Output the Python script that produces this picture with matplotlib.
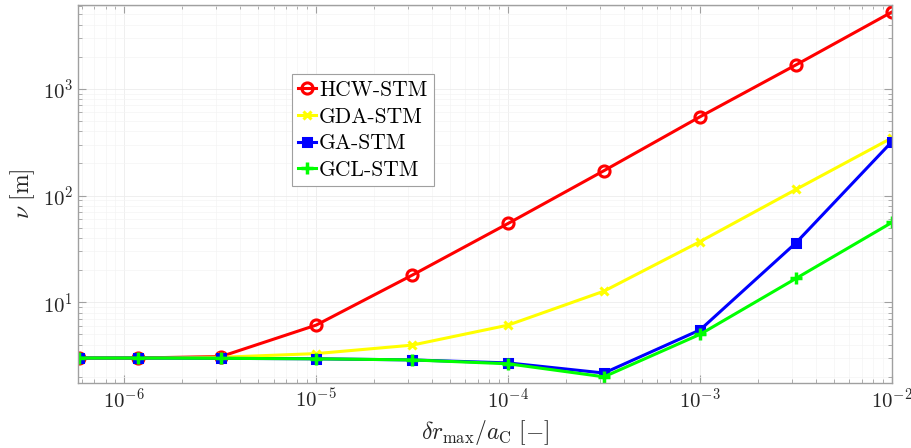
import matplotlib
matplotlib.use("Agg")
import matplotlib.pyplot as plt
import numpy as np

plt.rcParams['font.family'] = ['cmr10', 'DejaVu Serif']
plt.rcParams['mathtext.fontset'] = 'cm'
plt.rcParams['axes.formatter.use_mathtext'] = True

x = [5.8e-7, 1.18e-6, 3.2e-6, 1e-5, 3.16e-5, 1e-4, 3.16e-4, 1e-3, 3.16e-3, 1e-2]
hcw = [3.0, 3.0, 3.1, 6.1, 17.9, 54.7, 171, 547, 1675, 5250]
gda = [3.0, 3.0, 3.05, 3.3, 3.96, 6.1, 12.7, 37, 114, 347]
ga = [3.0, 3.0, 2.98, 2.95, 2.88, 2.7, 2.17, 5.5, 36, 320]
gcl = [3.0, 3.0, 2.98, 2.95, 2.88, 2.65, 2.0, 5.0, 16.7, 56]
labels = ['HCW-STM', 'GDA-STM', 'GA-STM', 'GCL-STM']

L, R, T, B = 78, 892, 5, 383
fig = plt.figure(figsize=(9.12, 4.48), dpi=100)
ax = fig.add_axes([L/912, 1-B/448, (R-L)/912, (B-T)/448])

ax.plot(x, hcw, '-o', color='red', lw=2.2, ms=8, mfc='none', mew=2.2, label=labels[0])
ax.plot(x, gda, '-x', color='yellow', lw=2.2, ms=6, mew=2.2, label=labels[1])
ax.plot(x, ga, '-s', color='blue', lw=2.2, ms=6, mew=2.2, label=labels[2])
ax.plot(x, gcl, '-+', color='#00ff00', lw=2.2, ms=8, mew=2.5, label=labels[3])

ax.set_xscale('log')
ax.set_yscale('log')
ax.set_xlim(5.75e-7, 1e-2)
ax.set_ylim(1.75, 6100)

ax.grid(True, which='major', color='#ececec', lw=0.6)
ax.grid(True, which='minor', color='#f4f4f4', lw=0.5)
for s in ax.spines.values():
    s.set_color('#a0a0a0')
    s.set_linewidth(1.0)
ax.tick_params(which='both', direction='in', top=True, right=True, colors='#a0a0a0', labelcolor='#262626', labelsize=15)
ax.tick_params(which='major', length=6)
ax.tick_params(which='minor', length=3)
ax.xaxis.set_major_locator(matplotlib.ticker.LogLocator(base=10, numticks=20))
ax.xaxis.set_minor_locator(matplotlib.ticker.LogLocator(base=10, subs=np.arange(2, 10), numticks=50))
ax.yaxis.set_minor_locator(matplotlib.ticker.LogLocator(base=10, subs=np.arange(2, 10), numticks=50))

ax.set_xlabel(r'$\delta r_{\max}/a_{\mathrm{C}}\ [-]$', fontsize=17, color='#262626')
ax.set_ylabel(r'$\nu\ [\mathrm{m}]$', fontsize=17, color='#262626')

leg = ax.legend(loc='upper left', bbox_to_anchor=((292-L)/(R-L), 1 - (74-T)/(B-T)), bbox_transform=ax.transAxes,
                fontsize=15.5, handlelength=0.8, handletextpad=0.15, borderpad=0.3, labelspacing=0.33,
                fancybox=False, framealpha=1, edgecolor='#a0a0a0', borderaxespad=0)
leg.get_frame().set_linewidth(0.8)

fig.savefig('out.png', dpi=100)
